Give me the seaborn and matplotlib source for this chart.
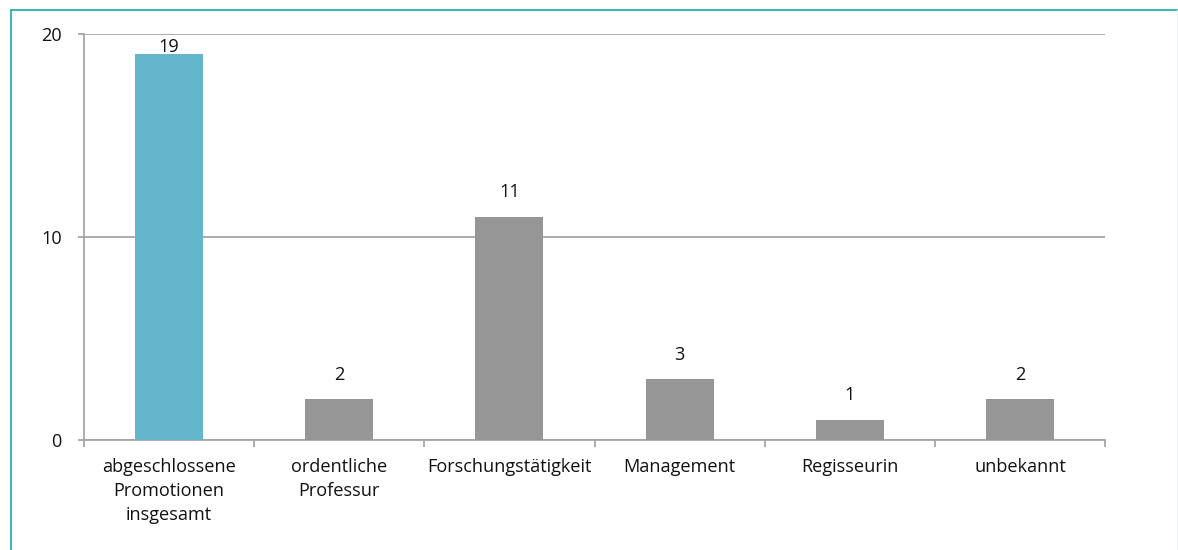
import matplotlib
matplotlib.use("Agg")
import matplotlib.pyplot as plt
import seaborn as sns
import pandas as pd
from matplotlib.lines import Line2D
from matplotlib.ticker import FixedLocator

categories = ["abgeschlossene\nPromotionen\ninsgesamt", "ordentliche\nProfessur",
              "Forschungstätigkeit", "Management", "Regisseurin", "unbekannt"]
values = [19, 2, 11, 3, 1, 2]
colors = ["#63b6cb", "#969696", "#969696", "#969696", "#969696", "#969696"]
yticks = [0, 10, 20]

sns.set_style("white")
plt.rcParams['font.family'] = ['Open Sans', 'DejaVu Sans']

FS = 13.1
fig = plt.figure(figsize=(11.78, 5.5), dpi=100)
ax = fig.add_axes([84/1178, 1-440/550, (1105-84)/1178, (440-34)/550])

df = pd.DataFrame({"cat": categories, "val": values})
sns.barplot(data=df, x="cat", y="val", hue="cat", palette=colors, legend=False,
            width=0.4, saturation=1, ax=ax, zorder=3, linewidth=0)

ax.set_ylim(0, 20)
ax.set_xlim(-0.5, len(categories) - 0.5)
ax.set_yticks(yticks)
ax.yaxis.grid(True, color="#a6a6a6", linewidth=1.3, zorder=0)
ax.set_axisbelow(True)
ax.set_xlabel("")
ax.set_ylabel("")

for s in ["top", "right"]:
    ax.spines[s].set_visible(False)
for s in ["left", "bottom"]:
    ax.spines[s].set_color("#a6a6a6")
    ax.spines[s].set_linewidth(1.3)

ax.tick_params(axis="y", direction="out", length=4, width=1.3, color="#a6a6a6",
               labelsize=FS, labelcolor="#111111", pad=12, left=True)
ax.tick_params(axis="x", which="major", length=0, labelsize=FS,
               labelcolor="#111111", pad=13)
ax.xaxis.set_minor_locator(FixedLocator([i - 0.5 for i in range(len(categories) + 1)]))
ax.tick_params(axis="x", which="minor", direction="out", length=5, width=1.3,
               color="#a6a6a6", bottom=True)
for lbl in ax.get_xticklabels():
    lbl.set_linespacing(1.42)

for i, v in enumerate(values):
    off = 17.5 if v < 18 else 5.5
    ax.annotate(str(v), (i, v), xytext=(0, off), textcoords="offset points",
                ha="center", va="center", fontsize=FS, color="#111111",
                annotation_clip=False)

# frame around the chart
fig.add_artist(Line2D([10.5/1178, 10.5/1178], [0, 1 - 9.5/550], transform=fig.transFigure,
                      color="#1aa6b0", linewidth=1.2))
fig.add_artist(Line2D([10.5/1178, 1177.5/1178], [1 - 9.5/550, 1 - 9.5/550],
                      transform=fig.transFigure, color="#1aa6b0", linewidth=1.2))
fig.add_artist(Line2D([1177.5/1178, 1177.5/1178], [0, 1 - 9.5/550], transform=fig.transFigure,
                      color="#e3f3f5", linewidth=1.2))

fig.savefig("out.png", dpi=100)
